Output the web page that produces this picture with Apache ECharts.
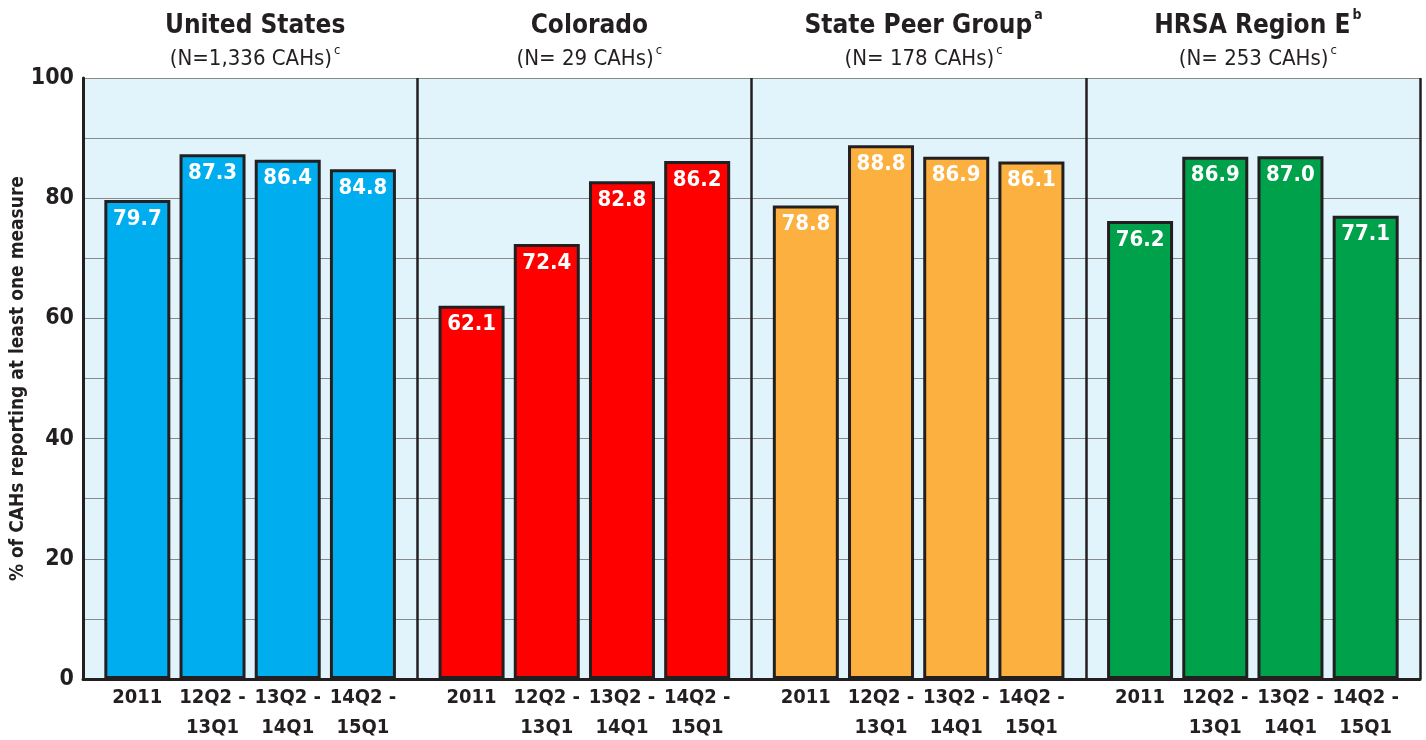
<!DOCTYPE html>
<html>
<head>
<meta charset="utf-8">
<script src="https://cdn.jsdelivr.net/npm/echarts@6/dist/echarts.min.js"></script>
<style>
html,body{margin:0;padding:0;background:#fff;}
#c{width:1426px;height:740px;}
</style>
</head>
<body>
<div id="c"></div>
<script>
const categories = ['2011', '12Q2 -\n13Q1', '13Q2 -\n14Q1', '14Q2 -\n15Q1'];
const panelTitles = ['United States', 'Colorado', 'State Peer Group', 'HRSA Region E'];
const titleSups = ['', '', 'a', 'b'];
const panelSubtitles = ['(N=1,336 CAHs)', '(N= 29 CAHs)', '(N= 178 CAHs)', '(N= 253 CAHs)'];
const usValues = [79.7, 87.3, 86.4, 84.8];
const coloradoValues = [62.1, 72.4, 82.8, 86.2];
const peerValues = [78.8, 88.8, 86.9, 86.1];
const hrsaValues = [76.2, 86.9, 87.0, 77.1];
const panelColors = ['#00AEEF', '#FF0000', '#FBB040', '#00A14B'];
const yLabelTicks = [0, 20, 40, 60, 80, 100];
const yAxisName = '% of CAHs reporting at least one measure';

const allValues = [usValues, coloradoValues, peerValues, hrsaValues];
const FONT = "'Liberation Sans Narrow', 'Arial Narrow', 'DejaVu Sans Condensed', sans-serif";
const TXT = '#231f20';

const plotLeft = 83, plotRight = 1420, plotTop = 78, plotBottom = 679;
const panelW = (plotRight - plotLeft) / 4;
const pitch = 75.2;

const grids = [{
  left: plotLeft, top: plotTop, width: plotRight - plotLeft, height: plotBottom - plotTop,
  show: true, backgroundColor: '#E1F4FB', borderWidth: 0, outerBoundsMode: 'none', containLabel: false
}];
const xAxes = [{
  type: 'value', gridIndex: 0, min: 0, max: 4, interval: 1,
  axisLabel: {show: false}, axisTick: {show: false},
  axisLine: {show: true, onZero: false, lineStyle: {color: TXT, width: 3}},
  splitLine: {show: true, lineStyle: {color: TXT, width: 2.5}}
}];
const yAxes = [{
  type: 'value', gridIndex: 0, min: 0, max: 100, interval: 10,
  axisLine: {show: true, lineStyle: {color: TXT, width: 3}},
  axisTick: {show: false},
  splitLine: {show: true, lineStyle: {color: '#8a8a8a', width: 1}},
  axisLabel: {
    margin: 9, color: TXT, fontFamily: FONT, fontWeight: 'bold', fontSize: 23,
    formatter: v => yLabelTicks.indexOf(v) >= 0 ? String(v) : ''
  },
  name: yAxisName, nameLocation: 'middle', nameGap: 55, nameRotate: 90, nameMoveOverlap: false,
  nameTextStyle: {color: TXT, fontFamily: FONT, fontWeight: 'bold', fontSize: 19}
}];
const series = [];
const titles = [];

for (let i = 0; i < 4; i++) {
  const cx = plotLeft + panelW * (i + 0.5);
  grids.push({left: cx - 2 * pitch, top: plotTop, width: 4 * pitch, height: plotBottom - plotTop,
              outerBoundsMode: 'none', containLabel: false});
  xAxes.push({
    type: 'category', gridIndex: i + 1, data: categories,
    axisLine: {show: false}, axisTick: {show: false}, splitLine: {show: false},
    axisLabel: {margin: 4, color: TXT, fontFamily: FONT, fontWeight: 'bold', fontSize: 20, lineHeight: 30, interval: 0, verticalAlign: 'top'}
  });
  yAxes.push({type: 'value', gridIndex: i + 1, min: 0, max: 100, show: false, splitLine: {show: false}});
  series.push({
    type: 'bar', xAxisIndex: i + 1, yAxisIndex: i + 1, data: allValues[i],
    barWidth: 66,
    itemStyle: {color: panelColors[i], borderColor: TXT, borderWidth: 3},
    label: {
      show: true, position: 'insideTop', distance: 8, color: '#fff',
      fontFamily: FONT, fontWeight: 'bold', fontSize: 22,
      formatter: p => p.value.toFixed(1)
    }
  });
  titles.push({
    left: cx, top: 3, textAlign: 'center',
    text: '{t|' + panelTitles[i] + '}' + (titleSups[i] ? '{ts|' + titleSups[i] + '}' : '') +
          '\n{s|' + panelSubtitles[i] + '}{ss|c}',
    textStyle: {
      fontWeight: 'normal',
      rich: {
        t: {fontFamily: FONT, fontWeight: 'bold', fontSize: 26, color: TXT, lineHeight: 36},
        ts: {fontFamily: FONT, fontWeight: 'bold', fontSize: 14, color: TXT, verticalAlign: 'top', lineHeight: 36, padding: [0, 0, 12, 2]},
        s: {fontFamily: FONT, fontWeight: 'normal', fontSize: 22, color: TXT, lineHeight: 30},
        ss: {fontFamily: FONT, fontWeight: 'normal', fontSize: 13, color: TXT, verticalAlign: 'top', lineHeight: 30, padding: [0, 0, 10, 2]}
      }
    }
  });
}

const chart = echarts.init(document.getElementById('c'), null, {renderer: 'canvas'});
chart.setOption({
  animation: false,
  backgroundColor: '#fff',
  title: titles,
  grid: grids,
  xAxis: xAxes,
  yAxis: yAxes,
  series: series
});
</script>
</body>
</html>
